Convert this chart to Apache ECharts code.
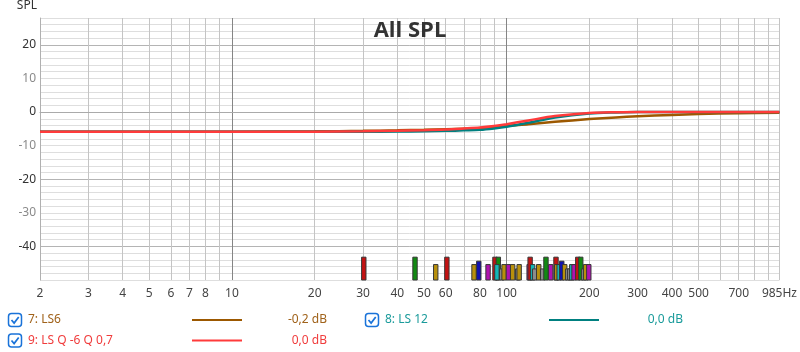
<!DOCTYPE html>
<html>
<head>
<meta charset="utf-8">
<script src="https://cdn.jsdelivr.net/npm/echarts@6/dist/echarts.min.js"></script>
<style>html,body{margin:0;padding:0;background:#fff;}#c{width:800px;height:352px;}</style>
</head>
<body>
<div id="c"></div>
<script>
// ---- data ----
const freqs = [2, 5, 10, 20, 30, 40, 50, 60, 70, 80, 90, 100, 120, 150, 200, 250, 300, 400, 500, 700, 985];
const ls6   = [-5.9, -5.9, -5.85, -5.75, -5.6, -5.45, -5.3, -5.15, -5.0, -4.85, -4.5, -4.1, -3.6, -2.9, -2.1, -1.6, -1.25, -0.85, -0.6, -0.35, -0.2];
const ls12  = [-5.9, -5.9, -5.9, -5.9, -5.85, -5.8, -5.7, -5.6, -5.45, -5.3, -4.9, -4.4, -3.2, -1.6, -0.4, -0.1, 0, 0, 0, 0, 0];
const lsq   = [-5.9, -5.9, -5.9, -5.85, -5.7, -5.55, -5.4, -5.2, -4.9, -4.6, -4.15, -3.6, -2.5, -1.2, -0.3, -0.05, 0.05, 0.05, 0.03, 0.01, 0];

const seriesNames = ['7: LS6', '8: LS 12', '9: LS Q -6 Q 0,7'];
const seriesValues = ['-0,2 dB', '0,0 dB', '0,0 dB'];
const chartTitle = 'All SPL';

const xLabelValues = [2, 3, 4, 5, 6, 7, 8, 10, 20, 30, 40, 50, 60, 80, 100, 200, 300, 400, 500, 700, 985];
const xGridValues = [2, 3, 4, 5, 6, 7, 8, 9, 10, 20, 30, 40, 50, 60, 70, 80, 90, 100, 200, 300, 400, 500, 600, 700, 800, 900, 985];
const xMajorGrid = [10, 100];
const yLabelValues = [-40, -30, -20, -10, 0, 10, 20];
const yMajorGrid = [-40, -20, 0, 20];
const yMinorGrid = [-50, -48, -46, -44, -42, -40, -38, -36, -34, -32, -30, -28, -26, -24, -22, -20, -18, -16, -14, -12, -10, -8, -6, -4, -2, 0, 2, 4, 6, 8, 10, 12, 14, 16, 18, 20, 22, 24, 26, 28];

const markerFreqs = [30.2, 46.4, 55.2, 60.6, 76.1, 79.2, 85.6, 90.7, 93.3, 92.2, 96, 97.9, 101.5, 105.2, 109.7, 111.1, 120.8, 121.8, 124.4, 126.5, 130.9, 135.3, 139.1, 144.7, 151.3, 152.2, 155.4, 158.8, 162.8, 167, 169.8, 172.7, 176, 181.6, 186.2, 191, 194, 199.2];
const markerTops  = [-43.2, -43.2, -45.4, -43.2, -45.4, -44.4, -45.4, -43.2, -43.2, -45.4, -46.7, -45.4, -45.4, -45.4, -46.7, -45.4, -45.4, -43.2, -45.4, -46.7, -45.4, -46.7, -43.2, -45.4, -43.2, -45.4, -45.4, -44.4, -45.4, -46.7, -46.7, -45.4, -45.4, -43.2, -43.2, -46.7, -45.4, -45.4];
const markerKinds = ['r','g','y','r','y','b','m','r','g','c','k','y','m','y','k','y','m','r','c','k','y','k','g','m','r','y','c','b','y','k','k','c','m','r','g','k','y','m'];
const markerBase = -50;

// ---- styles ----
const kindColor = {r:'#c41212', g:'#118a11', y:'#b8900c', b:'#1212b0', m:'#b012b0', c:'#12b8b8', k:'#8c8c8c'};
const lineColors = ['#9c5800', '#008080', '#ff3b3b'];
const textColors = ['#a0621a', '#1a9b9b', '#f03c3c'];
const FONT = '"Noto Sans", "Open Sans", sans-serif';

const chart = echarts.init(document.getElementById('c'), null, {renderer: 'canvas'});

function pairs(vals) { return freqs.map((f, i) => [f, vals[i]]); }

const markerData = markerFreqs.map((f, i) => [f, markerTops[i]]);

function checkbox(x, y) {
  return [
    {type: 'rect', shape: {x: x, y: y, width: 13, height: 13, r: 3}, style: {fill: '#fff', stroke: '#1a73d9', lineWidth: 1.5}},
    {type: 'polyline', shape: {points: [[x + 3, y + 6.5], [x + 5.6, y + 9.6], [x + 10.2, y + 3.4]]}, style: {stroke: '#1a73d9', lineWidth: 1.7, fill: null}}
  ];
}
function legendEntry(i, cbx, rowY, lineX, valRight) {
  return [].concat(checkbox(cbx, rowY - 6.5), [
    {type: 'text', x: cbx + 19.5, y: rowY, style: {text: seriesNames[i], fill: textColors[i], font: '12px ' + FONT, textVerticalAlign: 'middle'}},
    {type: 'line', shape: {x1: lineX, y1: rowY, x2: lineX + 50, y2: rowY}, style: {stroke: lineColors[i], lineWidth: 2}},
    {type: 'text', x: valRight, y: rowY, style: {text: seriesValues[i], fill: textColors[i], font: '12px ' + FONT, textAlign: 'right', textVerticalAlign: 'middle'}}
  ]);
}

const option = {
  backgroundColor: '#fff',
  animation: false,
  title: {
    text: chartTitle, left: 410, top: 20, textAlign: 'center', padding: 0,
    textStyle: {color: '#333', fontSize: 22, fontWeight: 'bold', fontFamily: 'Open Sans'}
  },
  grid: {left: 40, right: 20, top: 18, bottom: 72, containLabel: false},
  xAxis: [
    {
      type: 'log', logBase: 10, min: 2, max: 985, position: 'bottom',
      axisLine: {show: true, lineStyle: {color: '#aaaaaa', width: 1}},
      axisTick: {show: false, customValues: xGridValues},
      splitLine: {show: true, lineStyle: {color: '#c4c4c4', width: 1}},
      axisLabel: {
        show: true, customValues: xLabelValues, color: '#444', fontSize: 12, fontFamily: FONT, margin: 8,
        formatter: function (v) { const r = Math.round(v); return r === 985 ? '985Hz' : String(r); }
      }
    },
    {
      type: 'log', logBase: 10, min: 2, max: 985, position: 'bottom',
      axisLine: {show: false}, axisLabel: {show: false},
      axisTick: {show: false, customValues: xMajorGrid},
      splitLine: {show: true, lineStyle: {color: '#858585', width: 1}}
    }
  ],
  yAxis: [
    {
      type: 'value', min: -50, max: 28, position: 'left',
      name: 'SPL', nameLocation: 'end', nameGap: 6,
      nameTextStyle: {color: '#333', fontSize: 12, fontFamily: FONT, align: 'right', padding: [0, 3, 0, 0]},
      axisLine: {show: true, lineStyle: {color: '#b0b0b0'}},
      axisTick: {show: false, customValues: yMinorGrid},
      splitLine: {show: true, lineStyle: {color: '#dedede', width: 1}},
      axisLabel: {
        customValues: yLabelValues, fontSize: 12, fontFamily: FONT, margin: 4,
        color: function (v) { return (Math.round(v) % 20 === 0) ? '#333' : '#8a8a8a'; }
      }
    },
    {
      type: 'value', min: -50, max: 28, position: 'left',
      axisLine: {show: false}, axisLabel: {show: false},
      axisTick: {show: false, customValues: yMajorGrid},
      splitLine: {show: true, lineStyle: {color: '#b4b4b4', width: 1}}
    }
  ],
  series: [
    {
      name: seriesNames[0], type: 'line', data: pairs(ls6), smooth: 0.3, showSymbol: false, symbol: 'none',
      lineStyle: {color: lineColors[0], width: 2.5}, z: 3
    },
    {
      name: seriesNames[1], type: 'line', data: pairs(ls12), smooth: 0.3, showSymbol: false, symbol: 'none',
      lineStyle: {color: lineColors[1], width: 2.5}, z: 4
    },
    {
      name: seriesNames[2], type: 'line', data: pairs(lsq), smooth: 0.3, showSymbol: false, symbol: 'none',
      lineStyle: {color: lineColors[2], width: 2.5}, z: 5
    },
    {
      name: 'markers', type: 'custom', data: markerData, z: 2,
      renderItem: function (params, api) {
        const f = api.value(0), top = api.value(1);
        const pTop = api.coord([f, top]);
        const pBase = api.coord([f, markerBase]);
        return {
          type: 'rect',
          shape: {x: pTop[0] - 2.2, y: pTop[1], width: 4.4, height: pBase[1] - pTop[1]},
          style: {fill: kindColor[markerKinds[params.dataIndex]], stroke: '#383838', lineWidth: 1}
        };
      }
    }
  ],
  graphic: [].concat(
    legendEntry(0, 8.5, 320, 192, 327),
    legendEntry(1, 365.5, 320, 549, 683),
    legendEntry(2, 8.5, 340.5, 192, 327)
  )
};
chart.setOption(option);
</script>
</body>
</html>
